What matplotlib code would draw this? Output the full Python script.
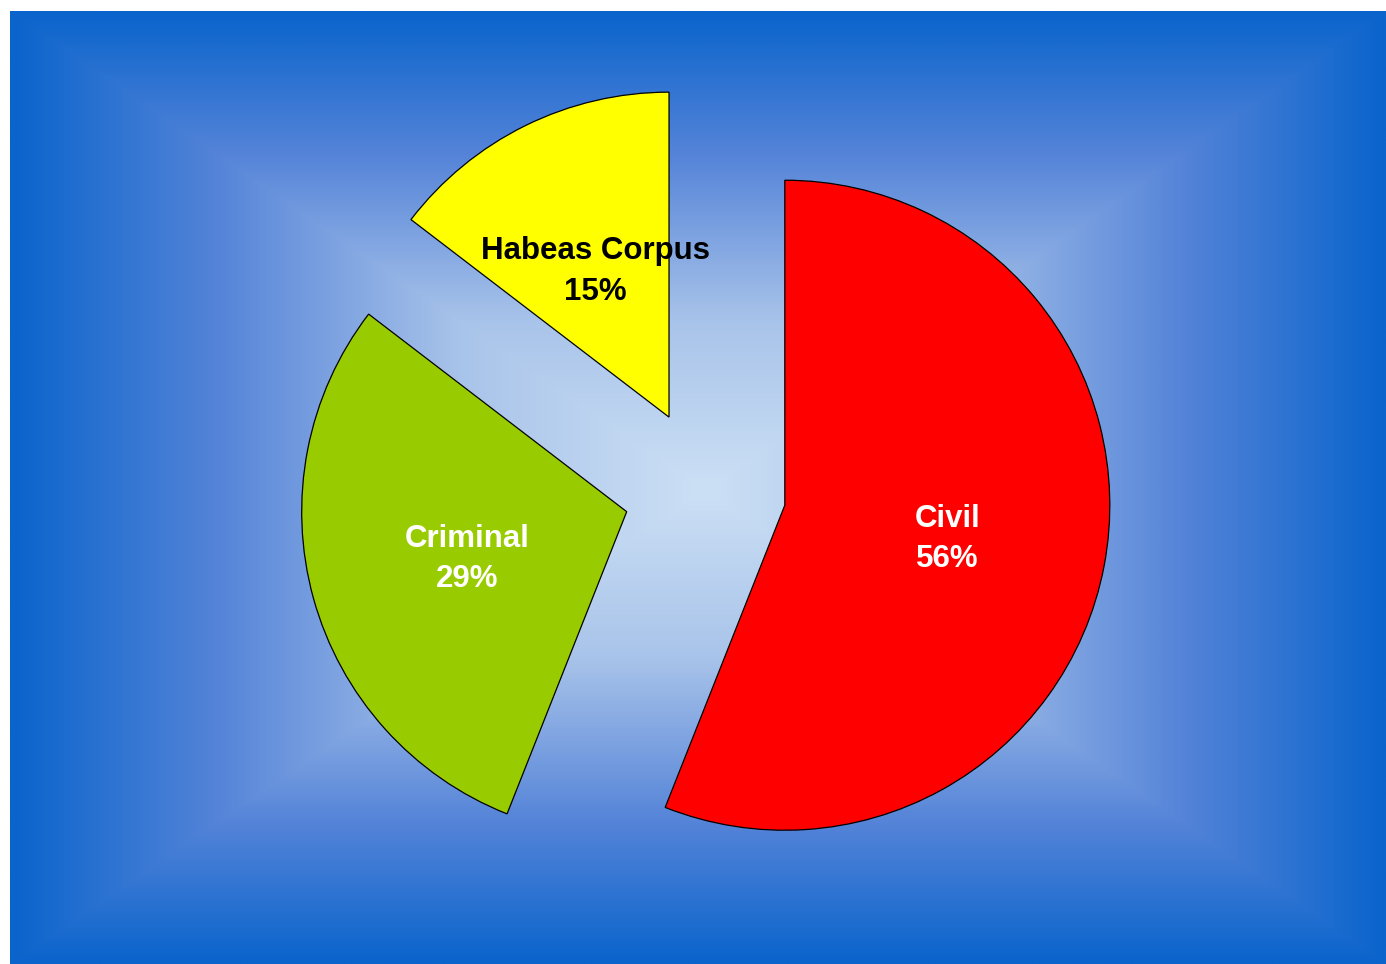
import numpy as np
import matplotlib.pyplot as plt
from matplotlib.colors import LinearSegmentedColormap

# Datos del gráfico
categorias = ['Civil', 'Criminal', 'Habeas Corpus']
valores = [56.0, 29.4, 14.6]
etiquetas_pct = ['56%', '29%', '15%']
colores = ['#ff0000', '#99cc00', '#ffff00']
color_texto = ['white', 'white', 'black']

W, H = 1386, 964
fig = plt.figure(figsize=(W / 100, H / 100), dpi=100)
ax = fig.add_axes([0, 0, 1, 1])

# Fondo con degradado rectangular desde el centro
x0, x1, y0, y1 = 10, W, 0, H - 11
cx, cy = 705, H - 490
radio = 325
xx, yy = np.meshgrid(np.linspace(x0, x1, 700), np.linspace(y0, y1, 480))
tx = np.where(xx < cx, (cx - xx) / (cx - x0), (xx - cx) / (x1 - cx))
ty = np.where(yy < cy, (cy - yy) / (cy - y0), (yy - cy) / (y1 - cy))
t = np.maximum(tx, ty)
cmap = LinearSegmentedColormap.from_list(
    'fondo', [(0, '#cce0f5'), (0.35, '#a9c4ea'), (0.7, '#5584d8'), (1, '#0a64cc')])
ax.imshow(t, cmap=cmap, extent=(x0, x1, y0, y1), origin='lower',
          aspect='auto', interpolation='bilinear', zorder=0)

# Gráfico de pastel con porciones separadas (explode va en unidades de datos)
sep = 0.25 * radio
wedges, _ = ax.pie(valores, colors=colores, startangle=90, counterclock=False,
                   center=(cx, cy), radius=radio, explode=[sep, sep, sep],
                   wedgeprops=dict(edgecolor='black', linewidth=0.9),
                   frame=True)
ax.set_xlim(0, W)
ax.set_ylim(0, H)
ax.axis('off')

for w, cat, pct, tc in zip(wedges, categorias, etiquetas_pct, color_texto):
    ang = np.deg2rad((w.theta1 + w.theta2) / 2)
    px = w.center[0] + 0.51 * w.r * np.cos(ang)
    py = w.center[1] + 0.51 * w.r * np.sin(ang) - 3
    ax.text(px, py, cat + '\n' + pct, ha='center', va='center', color=tc,
            fontsize=22.5, fontweight='bold', family='Liberation Sans',
            linespacing=1.45, zorder=5)

fig.savefig('out.png', dpi=100)
